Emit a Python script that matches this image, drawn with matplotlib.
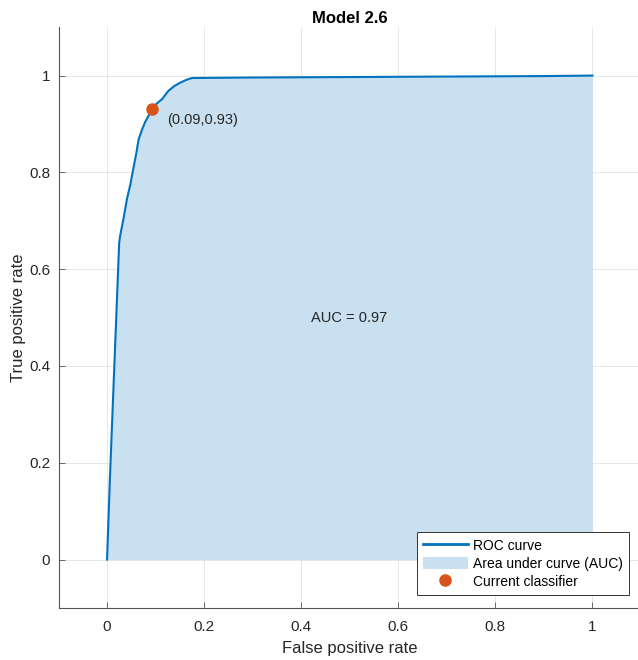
import numpy as np
import matplotlib
matplotlib.use("Agg")
import matplotlib.pyplot as plt
from matplotlib.lines import Line2D
from matplotlib.patches import Patch

plt.rcParams["font.family"] = ["Liberation Sans", "DejaVu Sans"]

# ROC curve
fpr = [0.0, 0.006, 0.025, 0.027, 0.034, 0.041, 0.048, 0.054, 0.060, 0.065,
       0.072, 0.078, 0.086, 0.093, 0.103, 0.113, 0.126, 0.138, 0.150, 0.163,
       0.175, 0.30, 0.50, 0.70, 0.90, 1.0]
tpr = [0.0, 0.17, 0.655, 0.669, 0.705, 0.745, 0.775, 0.807, 0.838, 0.868,
       0.888, 0.903, 0.918, 0.932, 0.943, 0.951, 0.968, 0.978, 0.985, 0.991,
       0.995, 0.996, 0.997, 0.998, 0.999, 1.0]
op_fpr, op_tpr = 0.093, 0.932
auc = 0.97
title = "Model 2.6"

blue = "#0072BD"
fill = "#C9E0F0"
orange = "#D95319"
dark = "#262626"

fig = plt.figure(figsize=(6.38, 6.6), dpi=100)
ax = fig.add_axes([0.0917, 0.0788, 0.913, 0.88])

ax.fill_between(fpr, tpr, 0, color=fill, linewidth=0, zorder=1)
ax.plot(fpr, tpr, color=blue, linewidth=1.5, zorder=2)
ax.plot(op_fpr, op_tpr, "o", color=orange, markersize=8, zorder=3)
ax.text(op_fpr + 0.03, op_tpr - 0.023, f"({op_fpr:.2f},{op_tpr:.2f})",
        fontsize=10.5, color=dark, va="center", ha="left")
ax.text(0.42, 0.5, f"AUC = {auc:.2f}", fontsize=10.5, color=dark,
        va="center", ha="left")

ax.set_xlim(-0.1, 1.1)
ax.set_ylim(-0.1, 1.1)
ax.set_xticks([0, 0.2, 0.4, 0.6, 0.8, 1])
ax.set_yticks([0, 0.2, 0.4, 0.6, 0.8, 1])
ax.set_xticklabels(["0", "0.2", "0.4", "0.6", "0.8", "1"])
ax.set_yticklabels(["0", "0.2", "0.4", "0.6", "0.8", "1"])
ax.grid(True, color="#E3E3E3", linewidth=0.6, zorder=0)
ax.set_axisbelow(True)
ax.tick_params(direction="in", length=4, width=0.6, colors="#555555",
               labelcolor=dark, labelsize=11)
ax.tick_params(axis="x", pad=9)
ax.tick_params(axis="y", pad=6)
for side in ["top", "right"]:
    ax.spines[side].set_visible(False)
for side in ["left", "bottom"]:
    ax.spines[side].set_color("#555555")
    ax.spines[side].set_linewidth(0.8)

ax.set_xlabel("False positive rate", fontsize=12, color=dark, labelpad=5)
ax.set_ylabel("True positive rate", fontsize=12, color=dark, labelpad=2)
ax.set_title(title, fontsize=12, fontweight="bold", color="black", pad=3)

handles = [Line2D([], [], color=blue, linewidth=2),
           Patch(facecolor=fill, edgecolor="none"),
           Line2D([], [], marker="o", color=orange, linestyle="none", markersize=8)]
labels = ["ROC curve", "Area under curve (AUC)", "Current classifier"]
leg = ax.legend(handles, labels, loc="lower right", fontsize=10,
                bbox_to_anchor=(0.98, 0.022), borderaxespad=0,
                fancybox=False, framealpha=1, edgecolor="#333333",
                handlelength=3.2, handleheight=1.0, handletextpad=0.4,
                labelspacing=0.3, borderpad=0.45)
leg.get_frame().set_linewidth(0.7)

fig.savefig("out.png", dpi=100)
